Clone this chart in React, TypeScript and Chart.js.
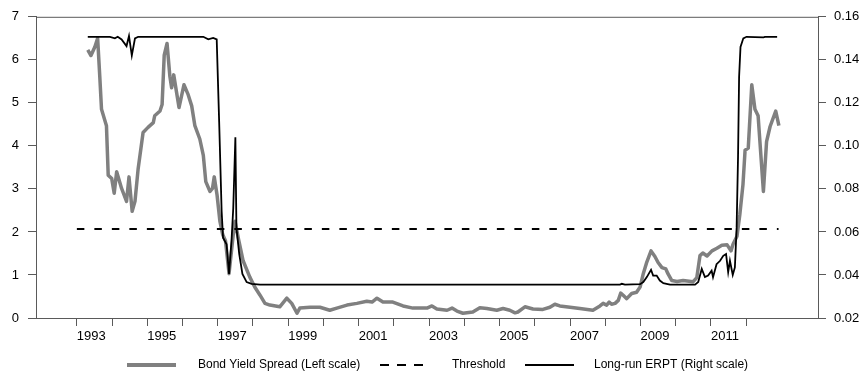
import React, { useEffect, useRef } from "react";
import { Chart, registerables } from "chart.js";

Chart.register(...registerables);

// Bond yield spread (left scale) – vertices (decimal years)
const spreadYears = [
  1993.31, 1993.40, 1993.51, 1993.59, 1993.65, 1993.70, 1993.84, 1993.89, 1993.99, 1994.06,
  1994.13, 1994.27, 1994.41, 1994.48, 1994.57, 1994.65, 1994.74, 1994.88, 1995.02, 1995.17,
  1995.21, 1995.36, 1995.42, 1995.48, 1995.56, 1995.64, 1995.69, 1995.75, 1995.90, 1996.04,
  1996.16, 1996.26, 1996.35, 1996.49, 1996.59, 1996.66, 1996.78, 1996.85, 1996.90, 1996.98,
  1997.06, 1997.14, 1997.22, 1997.32, 1997.44, 1997.49, 1997.58, 1997.72, 1997.91, 1998.05,
  1998.20, 1998.34, 1998.48, 1998.76, 1998.96, 1999.10, 1999.25, 1999.33, 1999.62, 1999.90,
  2000.18, 2000.38, 2000.67, 2000.95, 2001.23, 2001.38, 2001.52, 2001.69, 2001.97, 2002.26,
  2002.54, 2002.94, 2003.08, 2003.22, 2003.51, 2003.65, 2003.79, 2003.96, 2004.24, 2004.44,
  2004.64, 2004.92, 2005.10, 2005.29, 2005.44, 2005.52, 2005.72, 2005.95, 2006.23, 2006.43,
  2006.57, 2006.71, 2007.00, 2007.28, 2007.65, 2007.85, 2007.94, 2008.04, 2008.11, 2008.18,
  2008.28, 2008.37, 2008.44, 2008.51, 2008.61, 2008.75, 2008.89, 2008.99, 2009.08, 2009.18,
  2009.30, 2009.41, 2009.50, 2009.61, 2009.72, 2009.78, 2009.89, 2010.04, 2010.21, 2010.49,
  2010.60, 2010.69, 2010.77, 2010.89, 2011.03, 2011.17, 2011.31, 2011.46, 2011.57, 2011.63,
  2011.74, 2011.82, 2011.91, 2011.97, 2012.06, 2012.16, 2012.25, 2012.34, 2012.49, 2012.58,
  2012.68, 2012.84, 2012.93,
];
const spreadValues = [
  6.23, 6.10, 6.30, 6.50, 5.62, 4.85, 4.47, 3.32, 3.24, 2.90,
  3.40, 3.01, 2.71, 3.28, 2.48, 2.71, 3.47, 4.31, 4.43, 4.54,
  4.70, 4.81, 4.96, 6.11, 6.38, 5.62, 5.35, 5.65, 4.89, 5.42,
  5.19, 4.93, 4.47, 4.16, 3.78, 3.17, 2.94, 3.01, 3.28, 2.86,
  2.25, 1.94, 1.79, 1.03, 1.94, 2.25, 1.87, 1.33, 0.95, 0.72,
  0.53, 0.34, 0.30, 0.26, 0.46, 0.34, 0.11, 0.23, 0.25, 0.25,
  0.18, 0.23, 0.30, 0.34, 0.39, 0.37, 0.46, 0.37, 0.37, 0.28,
  0.23, 0.23, 0.28, 0.21, 0.18, 0.23, 0.16, 0.11, 0.14, 0.24,
  0.22, 0.18, 0.22, 0.18, 0.12, 0.14, 0.26, 0.21, 0.20, 0.25,
  0.32, 0.28, 0.25, 0.22, 0.18, 0.28, 0.34, 0.30, 0.37, 0.32,
  0.34, 0.41, 0.58, 0.53, 0.45, 0.57, 0.60, 0.72, 1.03, 1.30,
  1.56, 1.43, 1.29, 1.17, 1.14, 1.03, 0.87, 0.85, 0.87, 0.84,
  0.94, 1.45, 1.51, 1.44, 1.56, 1.62, 1.69, 1.70, 1.56, 1.72,
  1.90, 2.40, 3.10, 3.90, 3.95, 5.42, 4.85, 4.70, 2.94, 4.10,
  4.45, 4.81, 4.47,
];

// Long-run ERPT (right scale)
const erptYears = [
  1993.31, 1993.94, 1994.08, 1994.16, 1994.27, 1994.41, 1994.48, 1994.56, 1994.65, 1994.74,
  1996.59, 1996.73, 1996.87, 1996.97, 1997.04, 1997.11, 1997.15, 1997.25, 1997.32, 1997.39,
  1997.44, 1997.50, 1997.53, 1997.61, 1997.70, 1997.82, 1997.96, 1998.20, 2008.42, 2008.47,
  2008.56, 2008.99, 2009.08, 2009.18, 2009.30, 2009.36, 2009.46, 2009.55, 2009.65, 2009.74,
  2009.84, 2010.55, 2010.64, 2010.74, 2010.83, 2010.92, 2011.02, 2011.06, 2011.16, 2011.26,
  2011.35, 2011.43, 2011.49, 2011.54, 2011.62, 2011.68, 2011.73, 2011.77, 2011.80, 2011.84,
  2011.92, 2012.01, 2012.49, 2012.53, 2012.88,
];
const erptValues = [
  0.1507, 0.1507, 0.1500, 0.1507, 0.1495, 0.1464, 0.1511, 0.1420, 0.1500, 0.1507,
  0.1507, 0.1495, 0.1502, 0.1495, 0.1110, 0.0696, 0.0573, 0.0543, 0.0405, 0.0558,
  0.0711, 0.1040, 0.0619, 0.0497, 0.0405, 0.0367, 0.0359, 0.0355, 0.0355, 0.0359,
  0.0355, 0.0357, 0.0367, 0.0390, 0.0424, 0.0397, 0.0397, 0.0374, 0.0362, 0.0359,
  0.0355, 0.0355, 0.0367, 0.0428, 0.0390, 0.0397, 0.0420, 0.0390, 0.0450, 0.0466,
  0.0489, 0.0497, 0.0413, 0.0466, 0.0400, 0.0435, 0.0620, 0.0950, 0.1320, 0.1460,
  0.1500, 0.1507, 0.1504, 0.1507, 0.1507,
];

// Threshold (left scale)
const thresholdYears = [1993.0, 2012.92];
const thresholdValue = 2.07;

// Axis ticks
const tickYears = [
  1993, 1994, 1995, 1996, 1997, 1998, 1999, 2000, 2001, 2002,
  2003, 2004, 2005, 2006, 2007, 2008, 2009, 2010, 2011, 2012,
];
const labelYears = [1993, 1995, 1997, 1999, 2001, 2003, 2005, 2007, 2009, 2011];

const legendLabels = [
  "Bond Yield Spread (Left scale)",
  "Threshold",
  "Long-run ERPT (Right scale)",
];

const FONT = "'Liberation Sans', Arial, sans-serif";
const AXIS_COLOR = "#5a5a5a";
const GRAY = "#808080";

export default function App() {
  const canvasRef = useRef<HTMLCanvasElement | null>(null);

  useEffect(() => {
    const canvas = canvasRef.current;
    if (!canvas) return;

    const frame = {
      id: "topBorder",
      afterDraw(chart: any) {
        const { ctx, chartArea } = chart;
        ctx.save();
        ctx.strokeStyle = AXIS_COLOR;
        ctx.lineWidth = 1;
        ctx.beginPath();
        ctx.moveTo(chartArea.left, chartArea.top + 0.5);
        ctx.lineTo(chartArea.right, chartArea.top + 0.5);
        ctx.stroke();
        ctx.restore();
      },
    };

    const legend = {
      id: "customLegend",
      afterDraw(chart: any) {
        const ctx = chart.ctx;
        const y = 365;
        ctx.save();
        ctx.font = `12px ${FONT}`;
        ctx.fillStyle = "#000";
        ctx.textBaseline = "middle";
        ctx.textAlign = "left";
        // gray
        ctx.strokeStyle = GRAY;
        ctx.lineWidth = 4;
        ctx.beginPath();
        ctx.moveTo(127, y);
        ctx.lineTo(176, y);
        ctx.stroke();
        ctx.fillText(legendLabels[0], 198, y);
        // dashed
        ctx.strokeStyle = "#000";
        ctx.lineWidth = 2;
        ctx.setLineDash([9, 8]);
        ctx.beginPath();
        ctx.moveTo(380, y);
        ctx.lineTo(424, y);
        ctx.stroke();
        ctx.setLineDash([]);
        ctx.fillText(legendLabels[1], 452, y);
        // black
        ctx.beginPath();
        ctx.moveTo(525, y);
        ctx.lineTo(574, y);
        ctx.stroke();
        ctx.fillText(legendLabels[2], 594, y);
        ctx.restore();
      },
    };

    const chart = new Chart(canvas, {
      type: "line",
      data: {
        datasets: [
          {
            label: legendLabels[0],
            data: spreadYears.map((x, i) => ({ x, y: spreadValues[i] })),
            borderColor: GRAY,
            borderWidth: 3.5,
            borderJoinStyle: "round",
            pointRadius: 0,
            tension: 0,
            yAxisID: "yL",
            order: 3,
          },
          {
            label: legendLabels[1],
            data: thresholdYears.map((x) => ({ x, y: thresholdValue })),
            borderColor: "#000",
            borderWidth: 2,
            borderDash: [7.5, 10],
            pointRadius: 0,
            yAxisID: "yL",
            order: 2,
          },
          {
            label: legendLabels[2],
            data: erptYears.map((x, i) => ({ x, y: erptValues[i] })),
            borderColor: "#000",
            borderWidth: 1.8,
            pointRadius: 0,
            tension: 0,
            yAxisID: "yR",
            order: 1,
          },
        ],
      },
      options: {
        animation: false,
        responsive: false,
        layout: { padding: { top: 13, left: 0, right: 0, bottom: 0 } },
        plugins: {
          legend: { display: false },
          tooltip: { enabled: false },
        },
        scales: {
          x: {
            type: "linear",
            min: 1991.84,
            max: 2014.04,
            afterFit: (s: any) => {
              s.height = 59;
            },
            afterBuildTicks: (s: any) => {
              s.ticks = tickYears.map((v) => ({ value: v }));
            },
            grid: {
              drawOnChartArea: false,
              drawTicks: true,
              tickLength: 8,
              color: AXIS_COLOR,
            },
            border: { color: AXIS_COLOR, width: 1 },
            ticks: {
              autoSkip: false,
              maxRotation: 0,
              minRotation: 0,
              align: "start",
              padding: 3,
              color: "#000",
              font: { family: FONT, size: 13 },
              callback: (v: any) => (labelYears.includes(Number(v)) ? String(v) : ""),
            },
          },
          yL: {
            type: "linear",
            position: "left",
            min: 0,
            max: 7,
            afterFit: (s: any) => {
              s.width = 36;
            },
            grid: {
              drawOnChartArea: false,
              tickLength: 8,
              color: AXIS_COLOR,
            },
            border: { color: AXIS_COLOR, width: 1 },
            ticks: {
              stepSize: 1,
              padding: 9,
              color: "#000",
              font: { family: FONT, size: 13 },
            },
          },
          yR: {
            type: "linear",
            position: "right",
            min: 0.02,
            max: 0.16,
            afterFit: (s: any) => {
              s.width = 48;
            },
            grid: {
              drawOnChartArea: false,
              tickLength: 8,
              color: AXIS_COLOR,
            },
            border: { color: AXIS_COLOR, width: 1 },
            ticks: {
              stepSize: 0.02,
              padding: 8,
              color: "#000",
              font: { family: FONT, size: 13 },
              callback: (v: any) => Number(v).toFixed(2),
            },
          },
        },
      },
      plugins: [frame, legend],
    });

    return () => chart.destroy();
  }, []);

  return (
    <div
      style={{
        position: "fixed",
        left: 0,
        top: 0,
        width: 866,
        height: 377,
        background: "#fff",
      }}
    >
      <canvas ref={canvasRef} width={866} height={377} style={{ display: "block" }} />
    </div>
  );
}
